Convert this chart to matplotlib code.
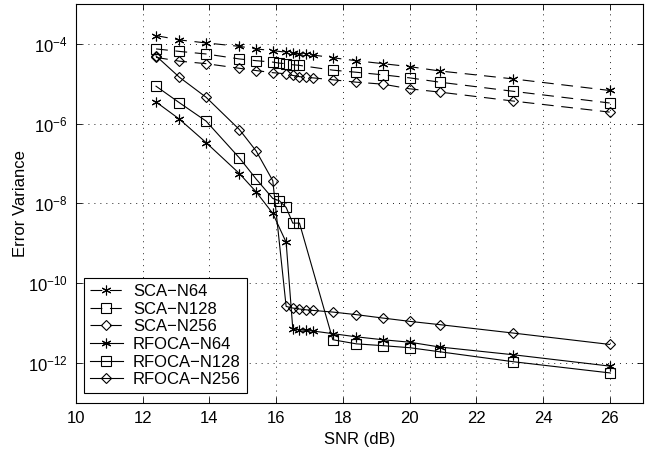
import numpy as np
import matplotlib
matplotlib.use('Agg')
import matplotlib.pyplot as plt
from matplotlib.ticker import NullLocator

plt.rcParams['font.family'] = ['Liberation Sans', 'DejaVu Sans']
plt.rcParams['mathtext.default'] = 'regular'
plt.rcParams['lines.scale_dashes'] = False

# SNR grids (dB): N64 / N256 runs share one grid, N128 runs another
snr_a = [12.4, 13.1, 13.9, 14.9, 15.4, 15.9, 16.3, 16.5, 16.7, 16.9, 17.1,
         17.7, 18.4, 19.2, 20.0, 20.9, 23.1, 26.0]
snr_b = [12.4, 13.1, 13.9, 14.9, 15.4, 15.9, 16.1, 16.3, 16.5, 16.7,
         17.7, 18.4, 19.2, 20.0, 20.9, 23.1, 26.0]

# error variance
sca_n64 = [1.62e-4, 1.26e-4, 1.06e-4, 8.7e-5, 7.5e-5, 6.8e-5, 6.2e-5, 5.8e-5, 5.6e-5,
           5.5e-5, 5.3e-5, 4.5e-5, 3.8e-5, 3.2e-5, 2.7e-5, 2.1e-5, 1.33e-5, 6.8e-6]
sca_n128 = [7.5e-5, 6.5e-5, 5.6e-5, 4.2e-5, 3.8e-5, 3.5e-5, 3.3e-5, 3.2e-5, 3.0e-5,
            2.9e-5, 2.2e-5, 1.95e-5, 1.68e-5, 1.41e-5, 1.1e-5, 6.5e-6, 3.3e-6]
sca_n256 = [4.6e-5, 3.7e-5, 3.2e-5, 2.45e-5, 2.15e-5, 1.9e-5, 1.78e-5, 1.62e-5, 1.51e-5,
            1.46e-5, 1.41e-5, 1.26e-5, 1.1e-5, 9.8e-6, 7.5e-6, 6.2e-6, 3.7e-6, 1.95e-6]
rfoca_n64 = [3.5e-6, 1.3e-6, 3.35e-7, 5.6e-8, 1.95e-8, 5.6e-9, 1.06e-9, 7.1e-12, 6.8e-12,
             6.5e-12, 6.3e-12, 5.4e-12, 4.5e-12, 3.8e-12, 3.3e-12, 2.5e-12, 1.6e-12, 8.3e-13]
rfoca_n128 = [8.7e-6, 3.35e-6, 1.16e-6, 1.38e-7, 4.1e-8, 1.33e-8, 1.16e-8, 7.9e-9, 3.2e-9,
              3.2e-9, 3.8e-12, 3.0e-12, 2.7e-12, 2.4e-12, 1.9e-12, 1.07e-12, 5.6e-13]
rfoca_n256 = [5.0e-5, 1.46e-5, 4.6e-6, 7.1e-7, 2.07e-7, 3.7e-8, 2.6e-11, 2.37e-11, 2.24e-11,
              2.14e-11, 2.07e-11, 1.88e-11, 1.62e-11, 1.33e-11, 1.1e-11, 9.1e-12, 5.6e-12, 2.9e-12]

dashed = (0, (8.5, 5.5))
star = (6, 2, 0)

fig = plt.figure(figsize=(6.53, 4.53), dpi=100)
ax = fig.add_axes([0.1164, 0.111, 0.8683, 0.880])

style = dict(color='k', lw=0.8, mfc='none', mec='k', mew=0.8)
ax.plot(snr_a, sca_n64, ls=dashed, marker=star, ms=7, label='SCA\u2212N64', **style)
ax.plot(snr_b, sca_n128, ls=dashed, marker='s', ms=6.5, label='SCA\u2212N128', **style)
ax.plot(snr_a, sca_n256, ls=dashed, marker='D', ms=5.5, label='SCA\u2212N256', **style)
ax.plot(snr_a, rfoca_n64, ls='-', marker=star, ms=7, label='RFOCA\u2212N64', **style)
ax.plot(snr_b, rfoca_n128, ls='-', marker='s', ms=6.5, label='RFOCA\u2212N128', **style)
ax.plot(snr_a, rfoca_n256, ls='-', marker='D', ms=5.5, label='RFOCA\u2212N256', **style)

ax.set_yscale('log')
ax.set_xlim(10, 27)
ax.set_ylim(1e-13, 1e-3)
ax.set_xticks(np.arange(10, 27, 2))
ax.set_yticks([1e-12, 1e-10, 1e-8, 1e-6, 1e-4])
ax.yaxis.set_minor_locator(NullLocator())

ax.grid(True, which='major', color='k', ls=(0, (0.7, 3.6)), lw=0.6)
ax.tick_params(direction='in', length=4, width=0.6, top=True, right=True,
               labelsize=12, colors='k', pad=6)
for s in ax.spines.values():
    s.set_linewidth(0.8)

ax.set_xlabel('SNR (dB)', fontsize=12, labelpad=4)
ax.set_ylabel('Error Variance', fontsize=12, labelpad=0)

leg = ax.legend(loc='lower left', bbox_to_anchor=(0.014, 0.024), borderaxespad=0,
                fontsize=12, fancybox=False, edgecolor='k', framealpha=1,
                labelspacing=0.16, handlelength=2.0, handletextpad=0.6, borderpad=0.35)
leg.get_frame().set_linewidth(0.8)

fig.savefig('out.png', dpi=100)
